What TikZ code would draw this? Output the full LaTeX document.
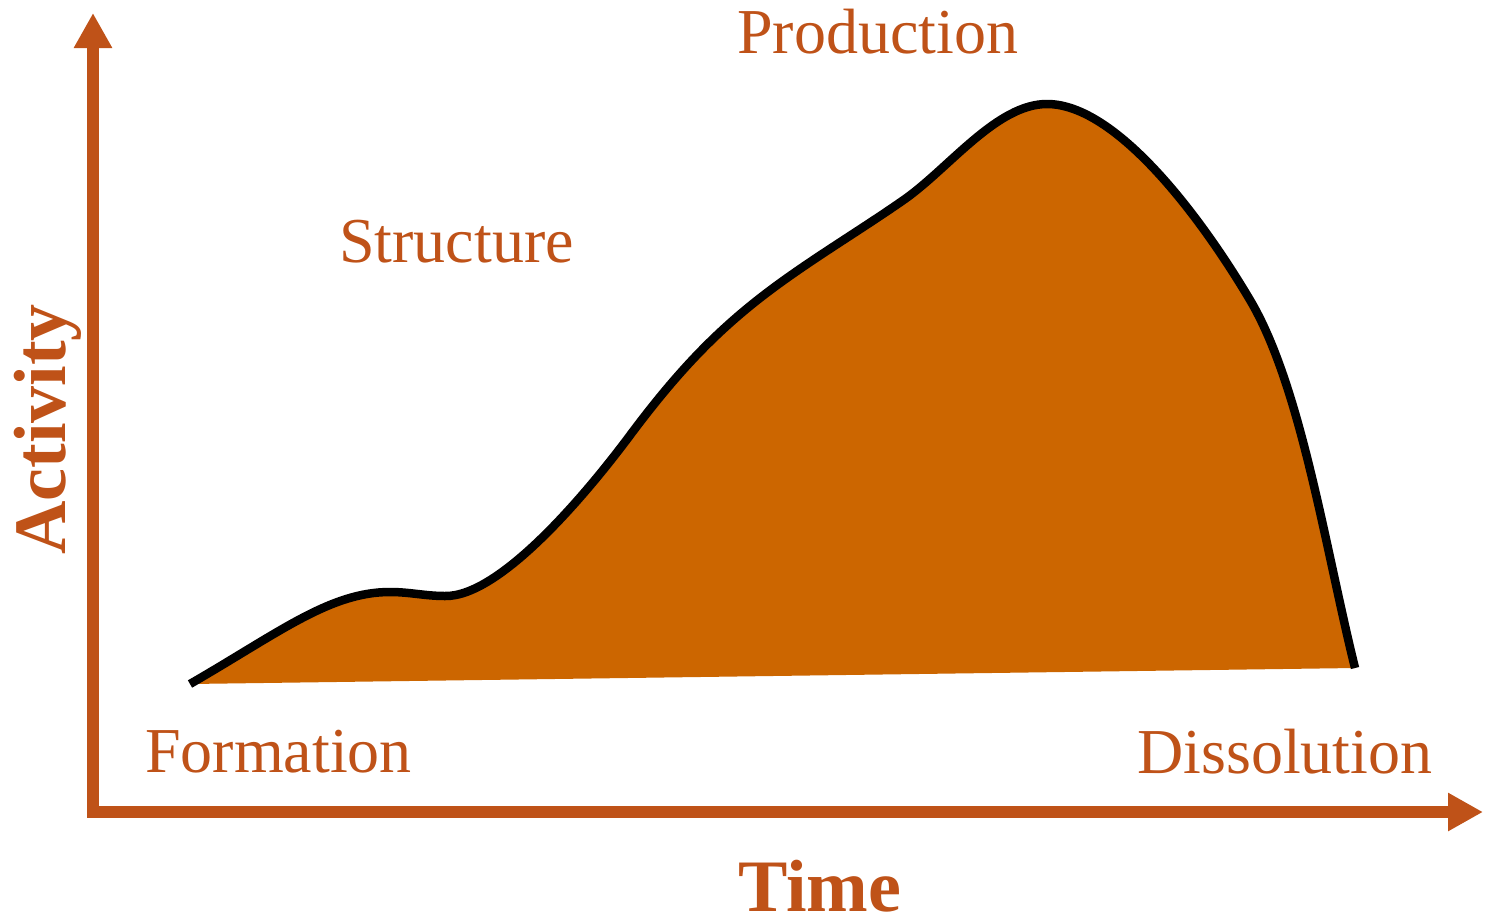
\documentclass[tikz,border=0pt]{standalone}
\usepackage{fontspec}
\setmainfont{Liberation Serif}
\usetikzlibrary{arrows.meta}
\definecolor{axiscol}{RGB}{191,82,24}
\definecolor{hillcol}{RGB}{204,102,0}
\begin{document}
\begin{tikzpicture}[x=1pt,y=-1pt,
  axis/.style={draw=axiscol, line width=12pt, line join=miter,
    {Triangle[length=35pt,width=36pt,fill=axiscol]}-{Triangle[length=35pt,width=36pt,fill=axiscol]}},
  lbl/.style={text=axiscol, inner sep=0pt, anchor=base west, font=\fontsize{64}{70}\selectfont},
  axlbl/.style={text=axiscol, inner sep=0pt, anchor=base west, font=\fontsize{74}{80}\selectfont\bfseries}]
\useasboundingbox (0,0) rectangle (1485,919);

% axes
\coordinate (ytop) at (93,13);
\coordinate (origin) at (93,812);
\coordinate (xend) at (1483,812);
\draw[axis] (ytop) -- (origin) -- (xend);

% activity hill: filled area, then its black outline
\fill[hillcol] (190,684) .. controls (280,632) and (330,592) .. (390,592)
  .. controls (410,592) and (425,596) .. (445,596)
  .. controls (500,597) and (586,494) .. (628,438)
  .. controls (680,368) and (722,325) .. (780,283)
  .. controls (820,254) and (865,227) .. (905,199)
  .. controls (950,167) and (997,104) .. (1047,104)
  .. controls (1117,104) and (1202,219) .. (1250,300)
  .. controls (1301,386) and (1325,547) .. (1355,668)
  -- cycle;
\draw[line width=8.5pt, line join=round]
  (190,684) .. controls (280,632) and (330,592) .. (390,592)
  .. controls (410,592) and (425,596) .. (445,596)
  .. controls (500,597) and (586,494) .. (628,438)
  .. controls (680,368) and (722,325) .. (780,283)
  .. controls (820,254) and (865,227) .. (905,199)
  .. controls (950,167) and (997,104) .. (1047,104)
  .. controls (1117,104) and (1202,219) .. (1250,300)
  .. controls (1301,386) and (1325,547) .. (1355,668);

% stage labels
\node[lbl] (production) at (737,53) {Production};
\node[lbl] (structure) at (339,262) {Structure};
\node[lbl] (formation) at (145,772) {Formation};
\node[lbl] (dissolution) at (1137,773) {Dissolution};

% axis labels
\node[axlbl] (time) at (738,911) {Time};
\node[axlbl, rotate=90] (activity) at (65,555) {Activity};
\end{tikzpicture}
\end{document}
